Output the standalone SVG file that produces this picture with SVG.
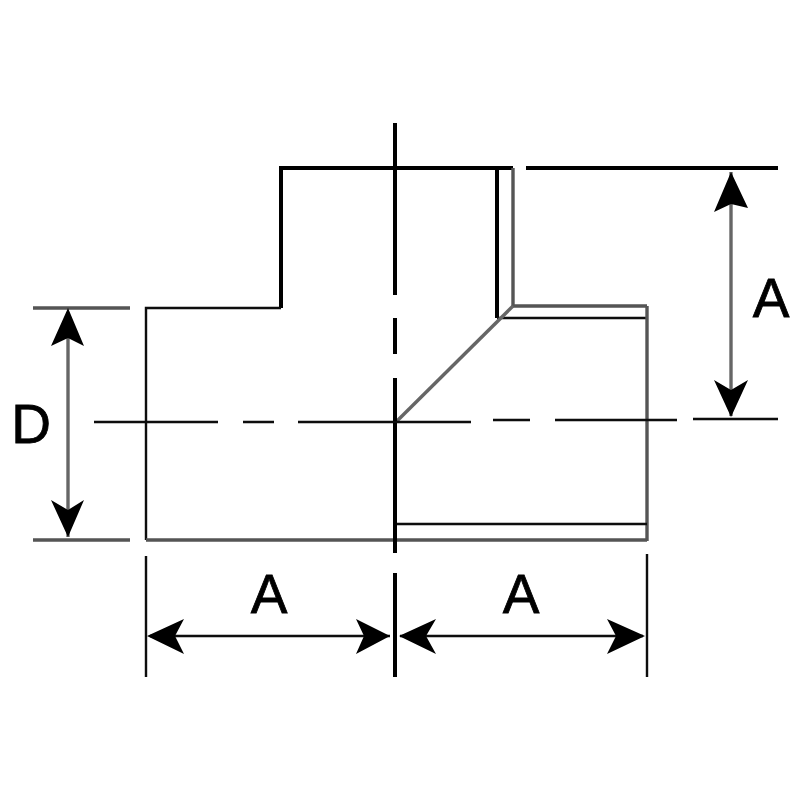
<svg xmlns="http://www.w3.org/2000/svg" width="800" height="800" viewBox="0 0 800 800">
<defs>
<filter id="soft" x="-5%" y="-5%" width="110%" height="110%"><feGaussianBlur stdDeviation="0.55"/></filter>
</defs>
<style>
.l{fill:none;stroke-linecap:butt}
.b{stroke-width:4;stroke:#000}
.t{stroke-width:2.4;stroke:#111}
.g{stroke-width:3.4;stroke:#555}
.d{stroke-width:3.4;stroke:#666}
text{font-family:"Liberation Sans",Arial,sans-serif;font-size:55px;fill:#000;stroke:#000;stroke-width:.8;text-anchor:middle}
.h{fill:#000;stroke:none}
</style>
<rect width="800" height="800" fill="#fff"/>
<g filter="url(#soft)">
<g id="fitting">
<path class="l b" d="M281 308V168H513"/>
<path class="l t" d="M281 308H146V540"/>
<path class="l g" d="M146 540H647"/>
<path class="l b" d="M497 168V318"/>
<path class="l g" d="M513 168V306H647"/>
<path class="l t" d="M497 318H647"/>
<path class="l g" d="M647 306V541"/>
<path class="l t" d="M395 524H647"/>
<path class="l d" d="M397 421L513 306"/>
</g>
<g id="centerlines">
<path class="l b" d="M395 123V295M395 318V354M395 378V553"/>
<path class="l t" d="M94 422H218M243 422H274M298 422H471M493 420H530M555 420H677M693 419H778"/>
</g>
<g id="connectors">
<path class="l b" d="M526 168H778"/>
<path class="l g" d="M33 308H130M33 540H130"/>
<path class="l t" d="M146 556V677M647 554V677"/>
<path class="l b" d="M395 573V677"/>
<path class="l t" d="M150 636H390M400 636H643"/>
<path class="l d" d="M68 312V537"/>
<path class="l d" d="M731 172V416"/>
</g>
<g id="arrowheads">
<path class="h" d="M147 636L184 619L175 636L184 654Z"/>
<path class="h" d="M390 636L356 619L364 636L356 654Z"/>
<path class="h" d="M399 636L436 619L426 636L436 654Z"/>
<path class="h" d="M645 636L607 619L616 636L607 654Z"/>
<path class="h" d="M68 308L51 346L68 338L84 346Z"/>
<path class="h" d="M68 537L51 500L68 510L84 500Z"/>
<path class="h" d="M731 172L714 212L731 204L748 208Z"/>
<path class="h" d="M731 417L714 380L731 390L748 380Z"/>
</g>
<g id="labels">
<text x="269" y="613">A</text>
<text x="521" y="613">A</text>
<text x="31" y="443">D</text>
<text x="771" y="317">A</text>
</g>
</g>
</svg>
